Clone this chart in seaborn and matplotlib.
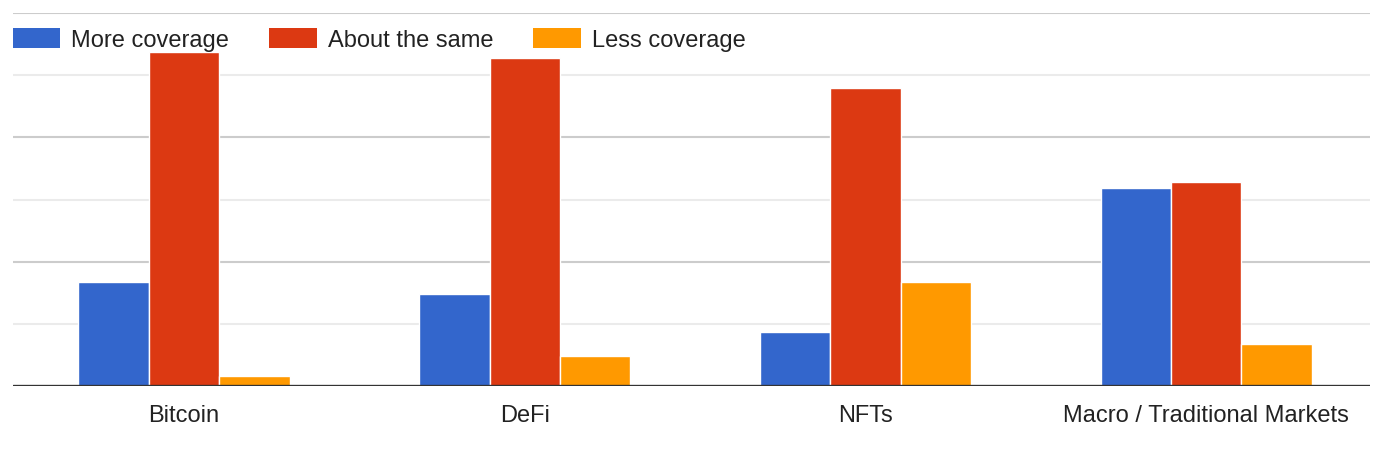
import matplotlib.pyplot as plt
import seaborn as sns
import pandas as pd
from matplotlib.patches import Patch

sns.set_theme(style="white")
plt.rcParams["font.family"] = ["Liberation Sans", "DejaVu Sans"]

# Data (arbitrary units, gridline every 10)
topics = ["Bitcoin", "DeFi", "NFTs", "Macro / Traditional Markets"]
more_coverage = [16.7, 14.8, 8.7, 31.9]
about_same = [53.7, 52.8, 48.0, 32.8]
less_coverage = [1.6, 4.8, 16.7, 6.8]

series = ["More coverage", "About the same", "Less coverage"]
colors = ["#3366cc", "#dc3912", "#ff9900"]

df = pd.DataFrame({
    "topic": topics * 3,
    "answer": [series[0]] * 4 + [series[1]] * 4 + [series[2]] * 4,
    "value": more_coverage + about_same + less_coverage,
})

fig = plt.figure(figsize=(13.86, 4.5), dpi=100)
ax = fig.add_axes([13 / 1386, 1 - 386 / 450, 1357 / 1386, 373 / 450])

sns.barplot(data=df, x="topic", y="value", hue="answer", hue_order=series,
            palette=colors, width=0.62, saturation=1, edgecolor="white",
            linewidth=1, ax=ax, legend=False, zorder=3)

ax.set_ylim(0, 60)
ax.set_xlim(-0.502, 3.481)

# gridlines: darker at major steps, lighter in between
for v in [20, 40, 60]:
    ax.axhline(v, color="#cccccc", lw=1.5, zorder=1)
for v in [10, 30, 50]:
    ax.axhline(v, color="#ebebeb", lw=1.5, zorder=1)
ax.axhline(0, color="#333333", lw=2.4, zorder=4)

for s in ax.spines.values():
    s.set_visible(False)
ax.set_yticks([])
ax.set_xlabel("")
ax.set_ylabel("")
ax.tick_params(axis="x", length=0, pad=13.5, labelsize=17, colors="#222222")

handles = [Patch(facecolor=c, edgecolor="none") for c in colors]
leg = fig.legend(handles, series, loc="center left", bbox_to_anchor=(13 / 1386, 1 - 40 / 450),
                 ncol=3, frameon=False, fontsize=17, handlelength=2.0,
                 handleheight=0.93, handletextpad=0.47, columnspacing=1.7,
                 borderpad=0, borderaxespad=0)
for t in leg.get_texts():
    t.set_color("#222222")

fig.savefig("out.png", dpi=100)
plt.close(fig)
